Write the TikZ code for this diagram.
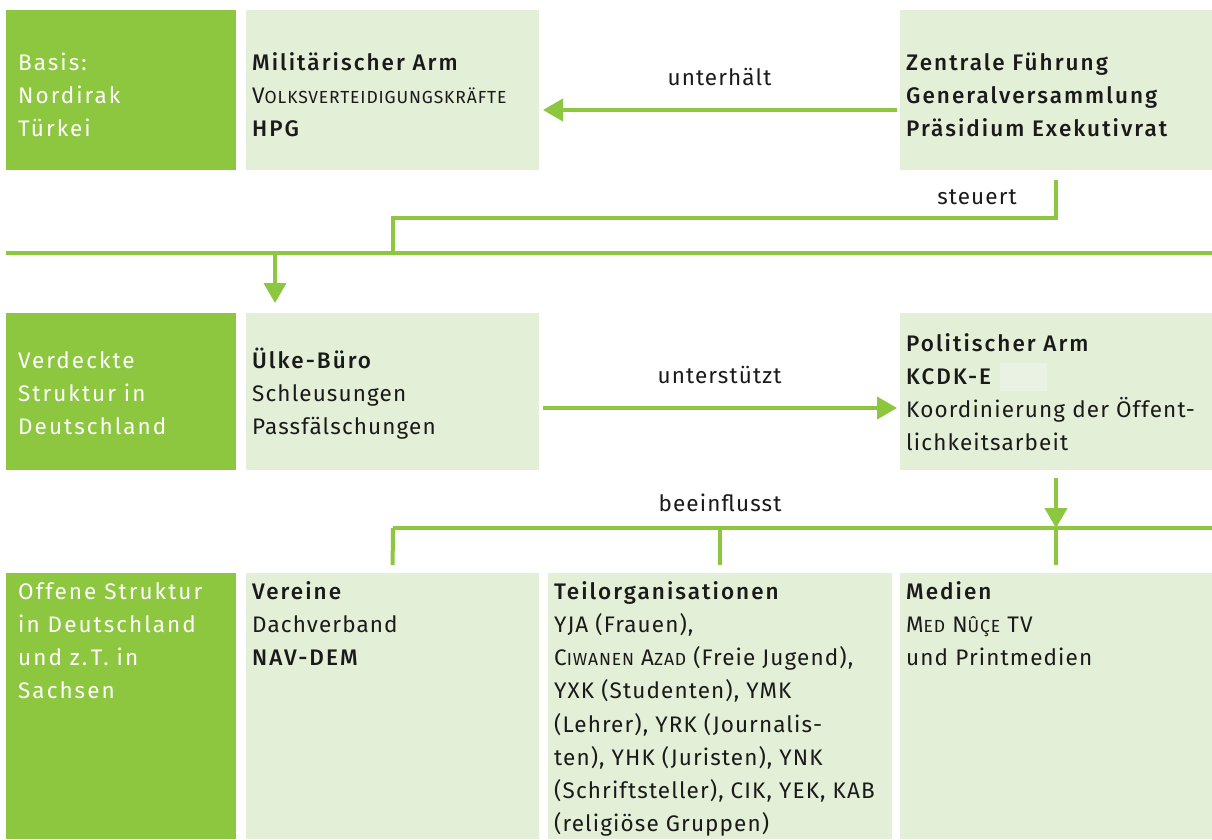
\documentclass[tikz,border=0pt]{standalone}
\usepackage{fontspec}
\setmainfont{Fira Sans}[LetterSpace=5,BoldFont={Fira Sans Medium},BoldFeatures={LetterSpace=9}]
\usetikzlibrary{arrows.meta,calc}
\definecolor{dgreen}{HTML}{8DC63F}
\definecolor{lgreen}{HTML}{E3EFD6}
\definecolor{redact}{HTML}{EAF3E3}
\definecolor{txt}{HTML}{1A1A1A}
\newcommand\fsc[2]{#1{\fontsize{17.5}{33}\selectfont #2}}
\newcommand\fl{\rule{0pt}{24pt}}
\begin{document}
\begin{tikzpicture}[x=1pt,y=-1pt,
  box/.style={draw=none, anchor=north west, inner sep=0pt, outer sep=0pt},
  dbox/.style={box, fill=dgreen},
  lbox/.style={box, fill=lgreen},
  btext/.style={anchor=north west, align=left, inner sep=0pt, font=\fontsize{22.5}{33.2}\selectfont, text=txt},
  wtext/.style={btext, text=white, font=\fontsize{22.5}{33.2}\selectfont\addfontfeature{LetterSpace=9}},
  conn/.style={draw=dgreen, line width=4pt},
  arr/.style={conn, -{Triangle[length=20pt,width=22pt]}},
  lbl/.style={font=\fontsize{22.5}{26}\selectfont, text=txt, inner sep=0pt}
]
\useasboundingbox[fill=white] (0,0) rectangle (1212,839);

% row 1
\node[dbox, minimum width=230pt, minimum height=160pt] (b1) at (6,10) {};
\node[lbox, minimum width=293pt, minimum height=160pt] (mil) at (246,10) {};
\node[lbox, minimum width=312pt, minimum height=160pt] (zf) at (900,10) {};
% row 2
\node[dbox, minimum width=230pt, minimum height=157pt] (b2) at (6,313) {};
\node[lbox, minimum width=293pt, minimum height=157pt] (ulke) at (246,313) {};
\node[lbox, minimum width=312pt, minimum height=157pt] (pol) at (900,313) {};
% row 3
\node[dbox, minimum width=230pt, minimum height=266pt] (b3) at (6,573) {};
\node[lbox, minimum width=293pt, minimum height=266pt] (ver) at (246,573) {};
\node[lbox, minimum width=344pt, minimum height=266pt] (teil) at (548,573) {};
\node[lbox, minimum width=312pt, minimum height=266pt] (med) at (900,573) {};

% texts
\node[wtext] at ($(b1.north west)+(12,36)$) {\fl Basis:\\Nordirak\\Türkei};
\node[btext] at ($(mil.north west)+(6,36)$) {\fl\textbf{Militärischer Arm}\\\fsc{V}{OLKSVERTEIDIGUNGSKRÄFTE}\\\textbf{HPG}};
\node[btext] at ($(zf.north west)+(6,36)$) {\fl\textbf{Zentrale Führung}\\\textbf{Generalversammlung}\\\textbf{Präsidium Exekutivrat}};

\node[wtext] at ($(b2.north west)+(12,31)$) {\fl Verdeckte\\Struktur in\\Deutschland};
\node[btext] at ($(ulke.north west)+(6,31)$) {\fl\textbf{Ülke-Büro}\\Schleusungen\\Passfälschungen};
\node[btext] at ($(pol.north west)+(6,14)$) {\fl\textbf{Politischer Arm}\\\textbf{KCDK-E}\\Koordinierung der Öffent-\\lichkeitsarbeit};
\fill[redact] ($(pol.north west)+(100,50)$) rectangle ($(pol.north west)+(147,78)$);

\node[wtext] at ($(b3.north west)+(12,2)$) {\fl Offene Struktur\\in Deutschland\\und z.\,T. in\\Sachsen};
\node[btext] at ($(ver.north west)+(6,2)$) {\fl\textbf{Vereine}\\Dachverband\\\textbf{NAV-DEM}};
\node[btext] at ($(teil.north west)+(6,2)$) {\fl\textbf{Teilorganisationen}\\YJA (Frauen),\\\fsc{C}{IWANEN} \fsc{A}{ZAD} (Freie Jugend),\\YXK (Studenten), YMK\\(Lehrer), YRK (Journalis-\\ten), YHK (Juristen), YNK\\(Schriftsteller), CIK, YEK, KAB\\(religiöse Gruppen)};
\node[btext] at ($(med.north west)+(6,2)$) {\fl\textbf{Medien}\\\fsc{M}{ED} \fsc{N}{ÛÇE} TV\\und Printmedien};

% coordinates
\coordinate (barL) at (6,253);
\coordinate (barR) at (1212,253);
\coordinate (steuerKnee) at (393,218);
\coordinate (downA) at (275,253);
\coordinate (bar2L) at (393,528);
\coordinate (bar2R) at (1212,528);

% connectors
\draw[arr, shorten <=3pt, shorten >=4pt] ([yshift=-20pt]zf.west) -- ([yshift=-20pt]mil.east)
  node[lbl, midway, above=22pt] {unterhält};
\draw[conn] ([yshift=-10pt]zf.south) |- (steuerKnee) -- (steuerKnee |- barL);
\node[lbl] at (977,197) {steuert};
\draw[conn] (barL) -- (barR);
\draw[arr, shorten >=10pt] (downA) -- (downA |- b2.north);

\draw[arr, shorten <=4pt, shorten >=3pt] ([yshift=-16.5pt]ulke.east) -- ([yshift=-16.5pt]pol.west)
  node[lbl, midway, above=22pt] {unterstützt};
\draw[arr, shorten <=8pt] (pol.south) -- (pol.south |- bar2L);
\draw[conn] (bar2L) -- (bar2R);
\node[lbl] at (720,503) {beeinflusst};
\draw[conn, shorten >=8pt] (bar2L) -- (ver.north);
\draw[conn, shorten >=8pt] (teil.north |- bar2L) -- (teil.north);
\draw[conn, shorten >=8pt] (med.north |- bar2L) -- (med.north);
\end{tikzpicture}
\end{document}
